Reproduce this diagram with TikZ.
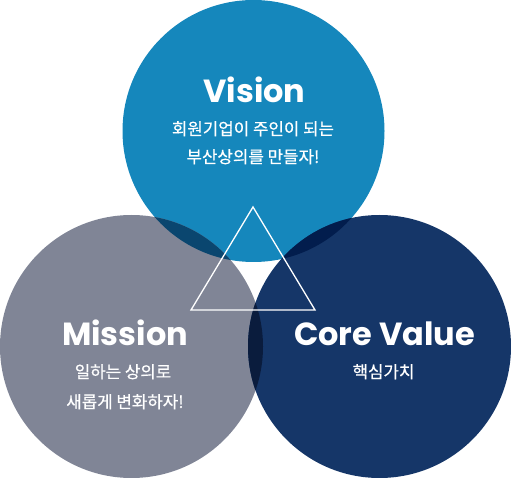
\documentclass[tikz,border=0pt]{standalone}
\usepackage{fontspec}
\setmainfont{Poppins}
\newfontfamily\kr[FakeBold=0.6]{Noto Sans CJK KR}
\definecolor{vis}{RGB}{21,135,188}
\definecolor{mis}{RGB}{128,133,150}
\definecolor{cor}{RGB}{21,54,104}
\definecolor{vm}{RGB}{10,70,111}
\definecolor{vc}{RGB}{2,29,77}
\definecolor{mc}{RGB}{10,28,61}
\tikzset{
  title/.style={text=white,inner sep=0pt,anchor=base,font=\fontsize{32}{32}\selectfont\bfseries},
  sub/.style={text=white,inner sep=0pt,anchor=base,font=\kr\fontsize{16.8}{17}\selectfont},
  tri/.style={draw=white,line width=1.3pt,line join=miter}
}
\begin{document}
\begin{tikzpicture}[x=1pt,y=-1pt]
\useasboundingbox (0,0) rectangle (511,478);
\coordinate (V) at (253.5,131);
\coordinate (M) at (131.5,346.5);
\coordinate (C) at (379.5,346.5);
\fill[vis] (V) circle (131pt);
\fill[mis] (M) circle (131.5pt);
\fill[cor] (C) circle (131.5pt);
\begin{scope}
  \clip (V) circle (131pt);
  \fill[vm] (M) circle (131.5pt);
  \fill[vc] (C) circle (131.5pt);
\end{scope}
\begin{scope}
  \clip (M) circle (131.5pt);
  \fill[mc] (C) circle (131.5pt);
\end{scope}
\coordinate (T1) at (253,207);
\coordinate (T2) at (191,310);
\coordinate (T3) at (315,310);
\draw[tri] (T1) -- (T2) -- (T3) -- cycle;
\node[title] (vt) at (254.5,103) {Vision};
\node[sub] (v1) at (253,135) {회원기업이 주인이 되는};
\node[sub] (v2) at (253,163) {부산상의를 만들자!};
\node[title] (mt) at (125,345) {Mission};
\node[sub] (m1) at (123,378) {일하는 상의로};
\node[sub] (m2) at (125,408) {새롭게 변화하자!};
\node[title] (ct) at (384.5,345) {Core Value};
\node[sub] (c1) at (383.5,378) {핵심가치};
\end{tikzpicture}
\end{document}
